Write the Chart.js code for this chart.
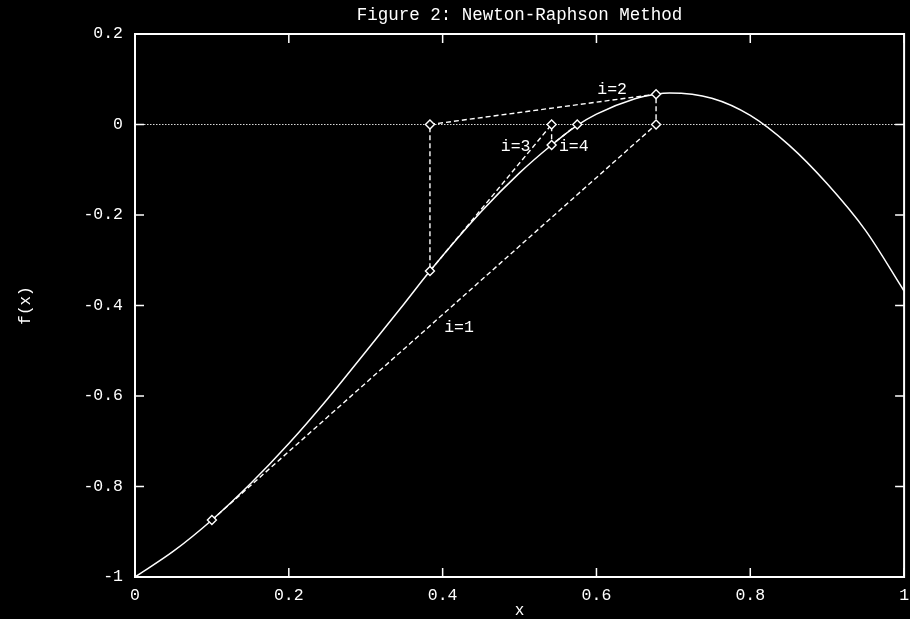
<!DOCTYPE html>
<html>
<head>
<meta charset="utf-8">
<title>Figure 2: Newton-Raphson Method</title>
<script src="https://cdn.jsdelivr.net/npm/chart.js@4.4.0/dist/chart.umd.min.js"></script>
<style>
  html, body { margin: 0; padding: 0; background: #000; }
  canvas { display: block; }
</style>
</head>
<body>
<canvas id="chart" width="910" height="619"></canvas>
<script>
// f(x)
var curveX = [0, 0.05, 0.1, 0.15, 0.2, 0.25, 0.3, 0.35, 0.3835, 0.45, 0.5, 0.5417, 0.575, 0.6, 0.65, 0.6775, 0.695, 0.75, 0.8, 0.85, 0.9, 0.95, 1];
var curveY = [-1, -0.943, -0.874, -0.794, -0.705, -0.607, -0.502, -0.396, -0.3238, -0.193, -0.107, -0.0453, -0.002, 0.023, 0.057, 0.067, 0.0695, 0.058, 0.020, -0.045, -0.131, -0.2345, -0.368];

// newton steps: tangent down to the axis, then straight back to the curve
var stepX = [0.1, 0.6775, 0.6775, 0.3835, 0.3835, 0.5417, 0.5417, 0.575];
var stepY = [-0.874, 0, 0.067, 0, -0.3238, 0, -0.0453, 0];

var xTicks = [0, 0.2, 0.4, 0.6, 0.8, 1];
var xTickLabels = ['0', '0.2', '0.4', '0.6', '0.8', '1'];
var yTicks = [0.2, 0, -0.2, -0.4, -0.6, -0.8, -1];
var yTickLabels = ['0.2', '0', '-0.2', '-0.4', '-0.6', '-0.8', '-1'];

// step labels (like gnuplot "set label ... at x,y")
var stepNames = ['i=1', 'i=2', 'i=3', 'i=4'];
var stepNameX = [0.402, 0.601, 0.4756, 0.5512];
var stepNameY = [-0.4486, 0.0762, -0.049, -0.049];

var mono = 'Liberation Mono';

function toPoints(xs, ys) {
    var pts = [];
    for (var i = 0; i < xs.length; i++) {
        pts.push({ x: xs[i], y: ys[i] });
    }
    return pts;
}

// border, inward ticks, dotted zero axis and the i=n labels
var gnuplotFrame = {
    id: 'gnuplotFrame',
    beforeDatasetsDraw: function(chart) {
        var ctx = chart.ctx;
        var a = chart.chartArea;
        var y0 = Math.round(chart.scales.y.getPixelForValue(0)) + 0.5;
        ctx.save();
        ctx.strokeStyle = '#d8d8d8';
        ctx.lineWidth = 1;
        ctx.setLineDash([1.5, 1.5]);
        ctx.beginPath();
        ctx.moveTo(a.left, y0);
        ctx.lineTo(a.right, y0);
        ctx.stroke();
        ctx.restore();
    },
    afterDatasetsDraw: function(chart) {
        var ctx = chart.ctx;
        var a = chart.chartArea;
        var xs = chart.scales.x;
        var ys = chart.scales.y;
        var len = 9;
        ctx.save();
        ctx.strokeStyle = '#fff';
        ctx.lineWidth = 2;
        ctx.strokeRect(a.left, a.top, a.right - a.left, a.bottom - a.top);

        ctx.lineWidth = 1.5;
        ctx.beginPath();
        xTicks.forEach(function(v) {
            var px = xs.getPixelForValue(v);
            ctx.moveTo(px, a.bottom); ctx.lineTo(px, a.bottom - len);
            ctx.moveTo(px, a.top); ctx.lineTo(px, a.top + len);
        });
        yTicks.forEach(function(v) {
            var py = ys.getPixelForValue(v);
            ctx.moveTo(a.left, py); ctx.lineTo(a.left + len, py);
            ctx.moveTo(a.right, py); ctx.lineTo(a.right - len, py);
        });
        ctx.stroke();

        ctx.fillStyle = '#fff';
        ctx.font = '16.5px "' + mono + '"';
        ctx.textAlign = 'left';
        ctx.textBaseline = 'middle';
        for (var i = 0; i < stepNames.length; i++) {
            ctx.fillText(stepNames[i], xs.getPixelForValue(stepNameX[i]), ys.getPixelForValue(stepNameY[i]));
        }
        ctx.restore();
    }
};

new Chart(document.getElementById('chart'), {
    type: 'scatter',
    data: {
        datasets: [
            {
                data: toPoints(curveX, curveY),
                showLine: true,
                borderColor: '#fff',
                borderWidth: 1.5,
                pointRadius: 0,
                cubicInterpolationMode: 'monotone',
                order: 2
            },
            {
                data: toPoints(stepX, stepY),
                showLine: true,
                borderColor: '#fff',
                borderWidth: 1.4,
                borderDash: [5, 3],
                pointStyle: 'rectRot',
                pointRadius: 4.5,
                pointBorderWidth: 1.4,
                pointBorderColor: '#fff',
                pointBackgroundColor: '#000',
                order: 1
            }
        ]
    },
    options: {
        responsive: false,
        animation: false,
        devicePixelRatio: 1,
        layout: { padding: { left: 0, right: 4, top: 0, bottom: 0 } },
        plugins: {
            legend: { display: false },
            tooltip: { enabled: false },
            title: {
                display: true,
                fullSize: false,
                text: 'Figure 2: Newton-Raphson Method',
                color: '#fff',
                font: { family: mono, size: 17.5, weight: 'normal', lineHeight: 1.2 },
                padding: { top: 5, bottom: 8 }
            }
        },
        scales: {
            x: {
                type: 'linear',
                min: 0,
                max: 1,
                grid: { display: false, drawTicks: false },
                border: { display: false },
                afterBuildTicks: function(s) {
                    s.ticks = xTicks.map(function(v) { return { value: v }; });
                },
                afterFit: function(s) {
                    s.height = 42;
                    s.paddingLeft = 0;
                    s.paddingRight = 0;
                },
                ticks: {
                    color: '#fff',
                    padding: 9,
                    maxRotation: 0,
                    autoSkip: false,
                    font: { family: mono, size: 16.5 },
                    callback: function(v, i) { return xTickLabels[i]; }
                },
                title: {
                    display: true,
                    text: 'x',
                    color: '#fff',
                    font: { family: mono, size: 16, lineHeight: 1 },
                    padding: 0
                }
            },
            y: {
                type: 'linear',
                min: -1,
                max: 0.2,
                grid: { display: false, drawTicks: false },
                border: { display: false },
                afterBuildTicks: function(s) {
                    s.ticks = yTicks.map(function(v) { return { value: v }; });
                },
                afterFit: function(s) { s.width = 135; },
                ticks: {
                    color: '#fff',
                    padding: 12,
                    autoSkip: false,
                    font: { family: mono, size: 16.5 },
                    callback: function(v, i) { return yTickLabels[i]; }
                },
                title: {
                    display: true,
                    text: 'f(x)',
                    color: '#fff',
                    font: { family: mono, size: 16, lineHeight: 1 },
                    padding: { top: 18, bottom: 0 }
                }
            }
        }
    },
    plugins: [gnuplotFrame]
});
</script>
</body>
</html>
